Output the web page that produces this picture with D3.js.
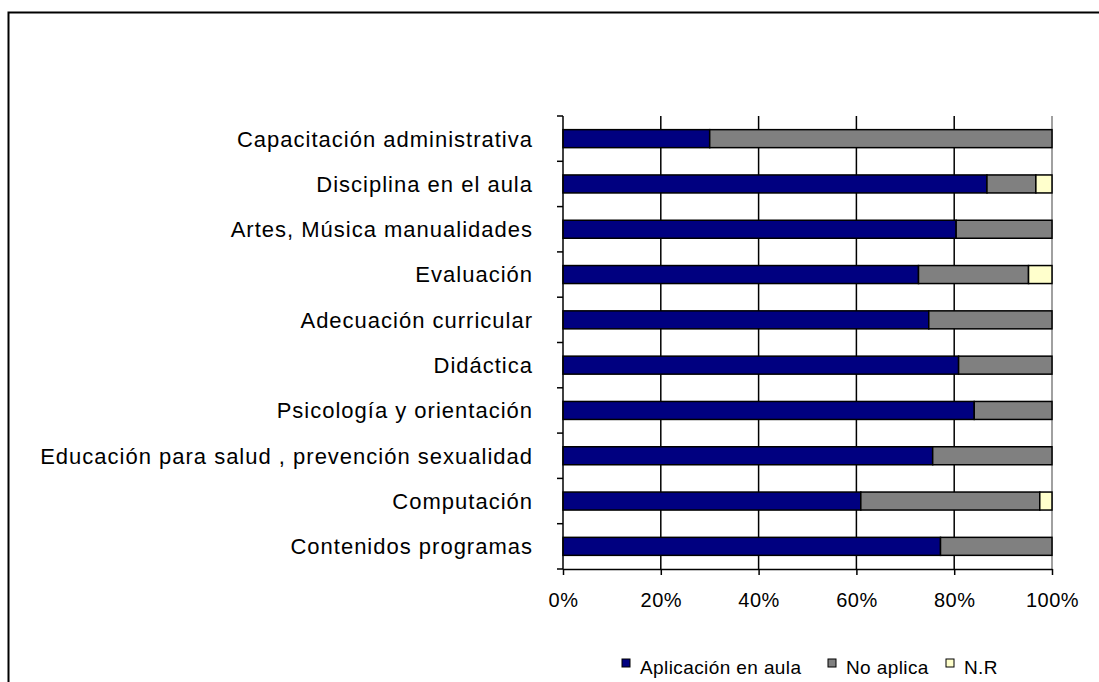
<!DOCTYPE html>
<html><head><meta charset="utf-8">
<script src="https://cdn.jsdelivr.net/npm/d3@7"></script>
<style>body{margin:0;background:#fff;}svg{display:block;}text{font-family:"Liberation Sans",Arial,sans-serif;fill:#000;}</style>
</head><body><svg id="c" width="1099" height="682"></svg>
<script>
const categories = ["Capacitación administrativa","Disciplina en el aula","Artes, Música manualidades","Evaluación","Adecuación curricular","Didáctica","Psicología y orientación","Educación para salud , prevención sexualidad","Computación","Contenidos programas"];
const aplicacion = [30.0, 86.7, 80.4, 72.7, 74.8, 80.9, 84.1, 75.6, 60.9, 77.2];
const noAplica   = [70.0, 10.0, 19.6, 22.5, 25.2, 19.1, 15.9, 24.4, 36.6, 22.8];
const nr         = [0, 3.3, 0, 4.8, 0, 0, 0, 0, 2.5, 0];
const seriesNames = ["Aplicación en aula","No aplica","N.R"];
const seriesColors = ["#000080","#808080","#FFFFCC"];
const xTicks = [0,20,40,60,80,100];

const svg = d3.select("#c");
svg.append("rect").attr("x",8.5).attr("y",12.5).attr("width",1200).attr("height",800)
  .attr("fill","none").attr("stroke","#000").attr("stroke-width",2);

const L=563, R=1052, T=116, B=569;
const x = d3.scaleLinear().domain([0,100]).range([L,R]);
const yb = d3.scaleBand().domain(categories).range([T,B]);

// gridlines
svg.append("g").selectAll("line").data(xTicks.slice(1)).join("line")
  .attr("x1",d=>x(d)).attr("x2",d=>x(d)).attr("y1",T).attr("y2",B)
  .attr("stroke",(d)=>d===100?"#808080":"#000").attr("stroke-width",1.5);

const rows = categories.map((c,i)=>({c, v:[aplicacion[i],noAplica[i],nr[i]]}));
const stack = d3.stack().keys([0,1,2]).value((d,k)=>d.v[k]);
const layers = stack(rows);
const bh = 18;
layers.forEach((layer,k)=>{
  svg.append("g").selectAll("rect").data(layer.filter(d=>d[1]-d[0]>0)).join("rect")
    .attr("x",d=>x(d[0])).attr("width",d=>x(d[1])-x(d[0]))
    .attr("y",d=>yb(d.data.c)+yb.bandwidth()/2-bh/2).attr("height",bh)
    .attr("fill",seriesColors[k]).attr("stroke","#000").attr("stroke-width",1.5);
});

// axes
const xAxis = d3.axisBottom(x).tickValues(xTicks).tickFormat(d=>d+"%").tickSize(6).tickSizeOuter(0);
const gx = svg.append("g").attr("transform",`translate(0,${B})`).call(xAxis);
gx.attr("font-size",null).attr("font-family",null);
gx.select(".domain").attr("stroke","#000").attr("stroke-width",1.5);
gx.selectAll(".tick line").attr("stroke","#000").attr("stroke-width",1.5);
gx.selectAll("text").attr("font-size",20).attr("dy",0).attr("y",38).attr("fill","#000")
  .style("letter-spacing","0.5px");

// y axis ticks at band boundaries
svg.append("line").attr("x1",L).attr("x2",L).attr("y1",T).attr("y2",B).attr("stroke","#000").attr("stroke-width",1.5);
const bounds = d3.range(categories.length+1).map(i=>T+i*yb.step());
svg.append("g").selectAll("line").data(bounds).join("line")
  .attr("x1",L-6).attr("x2",L).attr("y1",d=>d).attr("y2",d=>d).attr("stroke","#000").attr("stroke-width",1.5);
svg.append("g").selectAll("text").data(categories).join("text")
  .attr("x",533).attr("y",d=>yb(d)+yb.bandwidth()/2).attr("dy","0.36em")
  .attr("text-anchor","end").attr("font-size",22).style("letter-spacing","1px").text(d=>d);

// legend
const legX = [622, 828, 946];
const lg = svg.append("g");
seriesNames.forEach((n,i)=>{
  lg.append("rect").attr("x",legX[i]).attr("y",659).attr("width",8).attr("height",8)
    .attr("fill",seriesColors[i]).attr("stroke","#000").attr("stroke-width",1);
  lg.append("text").attr("x",legX[i]+18).attr("y",674).attr("font-size",19).style("letter-spacing","0.4px").text(n);
});
</script></body></html>
